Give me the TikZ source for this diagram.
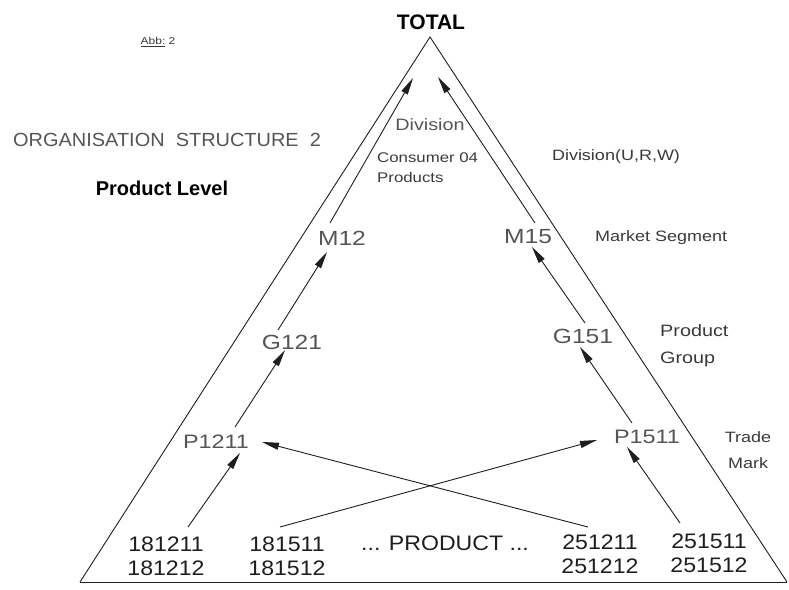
\documentclass[tikz,border=0pt]{standalone}
\usepackage{fontspec}
\setmainfont{Liberation Sans}
\newfontfamily\cadfont{Liberation Sans}[FakeStretch=1.2]
\newfontfamily\titlefont{Liberation Sans}[FakeStretch=1.05]
\newfontfamily\numfont{Liberation Sans}[FakeStretch=1.1]
\usetikzlibrary{arrows.meta,calc}

\definecolor{ink}{HTML}{1E1E1E}
\definecolor{labelgrey}{HTML}{555555}
\definecolor{notegrey}{HTML}{3A3A3A}

\tikzset{
  edge/.style={draw=ink, line width=0.9pt},
  arr/.style={edge, -{Triangle[length=17pt,width=7pt]}},
  bigcad/.style={inner sep=0pt, text=labelgrey, font=\cadfont\fontsize{20.5}{24}\selectfont},
  midcad/.style={inner sep=0pt, text=labelgrey, font=\cadfont\fontsize{19.5}{22}\selectfont},
  notecad/.style={inner sep=0pt, text=notegrey, font=\cadfont\fontsize{15}{18}\selectfont},
  numstack/.style={inner sep=0pt, text=ink, align=center, font=\numfont\fontsize{21}{24}\selectfont},
}

\begin{document}
\begin{tikzpicture}[x=1pt,y=-1pt]
  \useasboundingbox (0,0) rectangle (789,589);

  % outer triangle
  \coordinate (apex) at (430,37);
  \coordinate (bl) at (80,582);
  \coordinate (br) at (787,582);
  \draw[edge] (bl) -- (apex) -- (br);
  \draw[edge] (bl) -- (br);

  % titles
  \node[inner sep=0pt, font=\bfseries\fontsize{21}{24}\selectfont] (total) at (431,22) {TOTAL};
  \node[inner sep=0pt, font=\cadfont\fontsize{10}{12}\selectfont, text=notegrey] (abb) at (158,42) {\underline{Abb:}\ 2};
  \node[inner sep=0pt, anchor=west, text=labelgrey, font=\titlefont\fontsize{19}{22}\selectfont] (org) at (13,140) {ORGANISATION\ \ STRUCTURE\ \ 2};
  \node[inner sep=0pt, font=\bfseries\fontsize{20}{24}\selectfont] (plevel) at (162,188) {Product Level};

  % hierarchy levels
  \node[inner sep=0pt, text=labelgrey, font=\cadfont\fontsize{16.5}{20}\selectfont] (div) at (430,125) {Division};
  \node[notecad, anchor=west, align=left, font=\cadfont\fontsize{14}{20}\selectfont] (cons) at (377,168) {Consumer 04\\Products};
  \node[notecad] (divurw) at (616,157) {Division(U,R,W)};

  \node[bigcad] (m12) at (342,238) {M12};
  \node[bigcad] (m15) at (528,237) {M15};
  \node[notecad, anchor=west] (mseg) at (595,238) {Market Segment};

  \node[bigcad] (g121) at (292,342) {G121};
  \node[bigcad] (g151) at (583,336) {G151};
  \node[notecad, anchor=west, align=left, font=\cadfont\fontsize{16.5}{27}\selectfont] (pgroup) at (660,346) {Product\\Group};

  \node[midcad] (p1211) at (216,442) {P1211};
  \node[midcad] (p1511) at (647,437) {P1511};
  \node[notecad, align=center, font=\cadfont\fontsize{15}{26}\selectfont] (tmark) at (748,450) {Trade\\Mark};

  % products
  \node[numstack] (s1) at (166,556) {181211\\181212};
  \node[numstack] (s2) at (287,556) {181511\\181512};
  \node[inner sep=0pt, text=ink, font=\numfont\fontsize{21}{24}\selectfont] (prod) at (445,543) {... PRODUCT ...};
  \node[numstack] (s3) at (600,554) {251211\\251212};
  \node[numstack] (s4) at (709,553) {251511\\251512};

  % free ends of the top arrows
  \coordinate (topL) at (413,78);
  \coordinate (topR) at (438,77);

  % left chain
  \draw[arr] ($(s1)+(22,-29)$) -- ($(p1211)+(24,11)$);
  \draw[arr] ($(p1211)+(19,-15)$) -- ($(g121)+(-7,8)$);
  \draw[arr] ($(g121)+(-14,-12)$) -- ($(m12)+(-15,14)$);
  \draw[arr] ($(m12)+(-12,-15)$) -- (topL);

  % right chain
  \draw[arr] ($(s4)+(-29,-30)$) -- ($(p1511)+(-20,10)$);
  \draw[arr] ($(p1511)+(-15,-14)$) -- ($(g151)+(-3,11)$);
  \draw[arr] ($(g151)+(2,-13)$) -- ($(m15)+(4,10)$);
  \draw[arr] ($(m15)+(7,-14)$) -- (topR);

  % crossing assignments
  \draw[arr] ($(s3)+(-12,-27)$) -- ($(p1211)+(46,0)$);
  \draw[arr] ($(s2)+(-7,-29)$) -- ($(p1511)+(-50,3)$);
\end{tikzpicture}
\end{document}
